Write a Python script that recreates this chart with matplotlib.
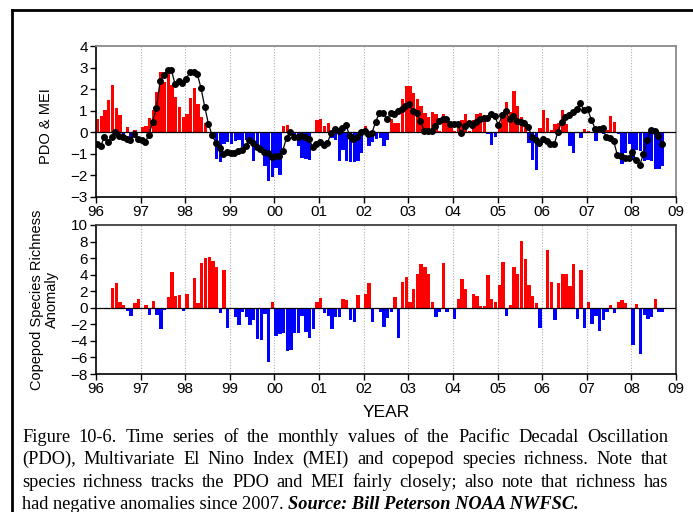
"""PDO / MEI and copepod species richness, 1996-2008 (Figure 10-6)."""

import numpy as np
import matplotlib

matplotlib.use("Agg")
import matplotlib.pyplot as plt  # noqa: E402
from matplotlib.lines import Line2D  # noqa: E402

W, H = 693, 512

year_ticks = list(range(1996, 2010))
year_labels = ["96", "97", "98", "99", "00", "01", "02", "03", "04",
               "05", "06", "07", "08", "09"]

# monthly PDO (bars), Jan 1996 - Sep 2008
pdo = [
    0.60, 0.76, 1.04, 1.49, 2.20, 1.13, 0.80, -0.15, 0.26, -0.25, 0.12, -0.05,
    0.25, 0.30, 0.65, 1.05, 1.85, 2.80, 2.35, 2.85, 2.20, 1.65, 1.15, 0.70,
    0.85, 1.60, 2.03, 1.30, 0.72, 0.42, 0.03, -0.10, -1.25, -1.40, -0.55, -0.45,
    -0.53, -0.40, -0.35, -0.68, -0.37, -0.45, -1.32, -0.60, -0.90, -1.57, -2.25, -2.07,
    -1.65, -2.00, 0.30, 0.35, -0.10, -0.30, -0.65, -1.20, -1.25, -1.30, -0.05, 0.55,
    0.60, 0.30, 0.45, -0.25, -0.35, -1.35, -0.80, -1.35, -1.40, -1.40, -1.35, -0.95,
    0.28, -0.65, -0.45, -0.30, -0.25, -0.65, -0.35, 0.60, 0.45, 0.45, 1.55, 2.15,
    2.15, 1.80, 1.55, 1.20, 0.90, 0.70, 0.95, 0.85, 0.05, 0.85, 0.55, 0.50,
    0.05, 0.50, 0.55, 0.85, 0.05, 0.55, 0.85, 0.90, 0.80, -0.10, -0.60, -0.20,
    0.30, 0.85, 1.40, 0.95, 1.90, 1.20, 0.70, 0.50, -0.50, -1.30, -1.75, 0.20,
    1.05, 0.65, 0.10, 0.40, 0.45, 1.05, 0.40, -0.65, -0.95, -0.05, -0.25, 0.15,
    0.05, 0.02, -0.40, 0.02, -0.10, 0.10, 0.75, 0.50, -0.10, -1.45, -0.95, -0.55,
    -1.30, -0.80, -0.85, -1.35, -1.30, -1.35, -1.70, -1.70, -1.55,
]

# monthly MEI (line with dots), Jan 1996 - Sep 2008
mei = [
    -0.56, -0.64, -0.23, -0.43, -0.23, 0.03, -0.17, -0.23, -0.31, -0.36, -0.06, -0.31,
    -0.36, -0.43, -0.14, 0.50, 1.12, 2.37, 2.64, 2.90, 2.90, 2.25, 2.37, 2.28,
    2.48, 2.78, 2.80, 2.70, 2.05, 1.19, 0.39, -0.14, -0.48, -0.74, -1.00, -0.90,
    -0.98, -0.98, -0.87, -0.82, -0.64, -0.36, -0.48, -0.67, -0.79, -0.90, -0.98, -1.16,
    -1.10, -1.10, -0.85, -0.25, 0.03, -0.20, -0.20, -0.17, -0.20, -0.31, -0.67, -0.56,
    -0.45, -0.59, -0.51, -0.02, 0.16, 0.08, 0.19, 0.33, -0.16, -0.30, -0.20, 0.03,
    0.06, -0.09, -0.02, 0.50, 0.91, 0.91, 0.60, 0.88, 0.85, 0.98, 1.07, 1.22,
    1.30, 0.98, 0.88, 0.54, 0.08, 0.05, 0.06, 0.29, 0.51, 0.60, 0.60, 0.39,
    0.39, 0.39, -0.05, 0.29, 0.41, 0.33, 0.50, 0.63, 0.66, 0.64, 0.87, 0.74,
    0.33, 0.79, 0.99, 0.60, 0.77, 0.51, 0.46, 0.44, 0.26, -0.21, -0.35, -0.50,
    -0.33, -0.40, -0.52, -0.56, 0.02, 0.50, 0.70, 0.81, 0.95, 1.10, 1.34, 1.03,
    1.06, 0.58, 0.17, 0.14, 0.22, -0.24, -0.25, -0.40, -1.07, -1.11, -1.17, -1.17,
    -0.91, -1.30, -1.51, -1.02, -0.37, 0.10, 0.07, -0.18, -0.55,
]

nan = float("nan")
# monthly copepod species richness anomaly (gaps = no sample)
richness = [
    nan, nan, nan, nan, 2.42, 2.98, 0.73, 0.36, -0.36, -0.97, 0.56, 1.05,
    nan, 0.28, -0.85, 0.77, -0.89, -2.58, -0.28, 1.33, 4.27, 1.41, 1.53, -0.44,
    1.69, nan, 3.59, 0.52, 5.44, 6.00, 6.09, 5.60, 4.92, -0.69, 4.56, -2.42,
    nan, -1.09, -2.03, -0.55, -1.15, -2.08, -1.45, -3.72, -3.86, -0.70, -6.53, 0.65,
    -3.42, -3.15, -3.06, -5.18, -5.13, -3.10, -3.05, -0.98, -2.88, -3.70, -2.57, 0.67,
    1.14, -0.67, -1.02, -2.56, -1.15, -1.14, 1.03, 0.91, -1.53, -1.69, 1.53, nan,
    1.69, 2.98, -1.69, -0.16, -0.48, -2.38, -1.29, -0.48, 1.25, -3.67, 3.06, 3.71,
    0.69, 2.30, 4.11, 5.28, 4.96, 4.03, 0.73, -1.17, -0.52, 5.40, -0.56, nan,
    -1.41, 1.01, 3.43, 2.26, -0.16, 1.65, 1.41, 0.20, 0.24, 3.90, 1.05, 0.69,
    2.74, 5.52, -1.00, 0.28, 4.96, 4.07, 8.10, 5.89, 2.74, 1.41, 0.56, -2.42,
    nan, 7.00, 3.10, -1.49, 2.94, 4.03, 4.07, 2.66, 5.28, -1.33, 4.56, -2.42,
    0.69, -1.90, -1.00, -2.82, -1.49, -0.56, 0.32, -0.69, 0.73, 0.93, 0.56, nan,
    -4.44, 0.44, -5.60, -0.89, -1.41, -1.09, 1.05, -0.48, -0.48,
]

caption_lines = [
    "Figure 10-6.  Time series of the monthly values of the Pacific Decadal Oscillation",
    "(PDO), Multivariate El Nino Index (MEI) and copepod species richness. Note that",
    "species richness tracks the PDO and MEI fairly closely; also note that richness has",
]
caption_last = "had negative anomalies since 2007."
caption_source = "Source: Bill Peterson NOAA NWFSC."

RED, BLUE = "#ff0000", "#0000ff"


def fx(px):
    return px / W


def fy(py):
    return 1 - py / H


def bar_colors(values):
    return [RED if v >= 0 else BLUE for v in values]


def style_axis(ax, ylim, ystep, spine_color):
    ax.set_xlim(1996, 2009)
    ax.set_ylim(*ylim)
    ax.set_yticks(np.arange(ylim[0], ylim[1] + 0.01, ystep))
    ax.set_xticks(year_ticks)
    ax.set_xticklabels(year_labels)
    for year in year_ticks[1:-1]:
        ax.axvline(year, color="#b0b0b0", linestyle=(0, (1, 1.5)), linewidth=0.8, zorder=0)
    ax.axhline(0, color="black", linewidth=0.9, zorder=3)
    ax.tick_params(direction="out", length=4, width=1, labelsize=11, pad=2)
    ax.spines["left"].set_linewidth(1.2)
    ax.spines["bottom"].set_linewidth(1.2)
    for side in ("top", "right"):
        ax.spines[side].set_color(spine_color)
        ax.spines[side].set_linewidth(1.3)


plt.rcParams["font.family"] = ["Liberation Sans", "DejaVu Sans"]
fig = plt.figure(figsize=(W / 100, H / 100), dpi=100)

months = 1996 + np.arange(len(pdo)) / 12.0
bar_w = 1 / 12.0 * 0.9

# top panel: PDO bars and MEI line
ax1 = fig.add_axes([fx(96), fy(197), fx(676) - fx(96), fy(46) - fy(197)])
ax1.bar(months, pdo, width=bar_w, align="edge", color=bar_colors(pdo),
        linewidth=0, zorder=2)
ax1.plot(months + 0.02, mei, color="black", linewidth=0.9, marker="o",
         markersize=4.0, zorder=4)
style_axis(ax1, (-3, 4), 1, "#8a8a8a")
ax1.set_ylabel("PDO & MEI", fontsize=10.5, labelpad=12)
ax1.yaxis.set_label_coords(-0.075, 0.47)

# bottom panel: copepod richness anomaly
ax2 = fig.add_axes([fx(96), fy(374), fx(676) - fx(96), fy(225) - fy(374)])
rich = np.array(richness)
ok = ~np.isnan(rich)
ax2.bar(months[ok], rich[ok], width=bar_w, align="edge",
        color=bar_colors(rich[ok]), linewidth=0, zorder=2)
style_axis(ax2, (-8, 10), 2, "#404040")
ax2.set_ylabel("Copepod Species Richness\nAnomaly", fontsize=10.5,
               labelpad=8, linespacing=1.1)
ax2.set_xlabel("YEAR", fontsize=12.5, labelpad=6)

# outer frame of the figure panel
fig.add_artist(Line2D([fx(12), fx(12)], [fy(10), fy(520)], color="black", linewidth=2))
fig.add_artist(Line2D([fx(12), fx(700)], [fy(10), fy(10)], color="black", linewidth=2))

# caption, justified like the original
renderer = fig.canvas.get_renderer()
cap_kw = dict(family="Liberation Serif", fontsize=13.2, va="baseline")
x_left, x_right = 22, 668
baselines = [442, 464, 487, 509]
for line, base in zip(caption_lines, baselines):
    words = line.split()
    texts = [fig.text(0, fy(base), w, **cap_kw) for w in words]
    widths = [t.get_window_extent(renderer).width for t in texts]
    gap = (x_right - x_left - sum(widths)) / (len(words) - 1)
    x = x_left
    for t, w in zip(texts, widths):
        t.set_x(fx(x))
        x += w + gap

t_last = fig.text(fx(x_left), fy(baselines[3]), caption_last, **cap_kw)
last_w = t_last.get_window_extent(renderer).width
fig.text(fx(x_left + last_w + 4), fy(baselines[3]), caption_source,
         weight="bold", style="italic", **cap_kw)

fig.savefig("out.png", dpi=100)
